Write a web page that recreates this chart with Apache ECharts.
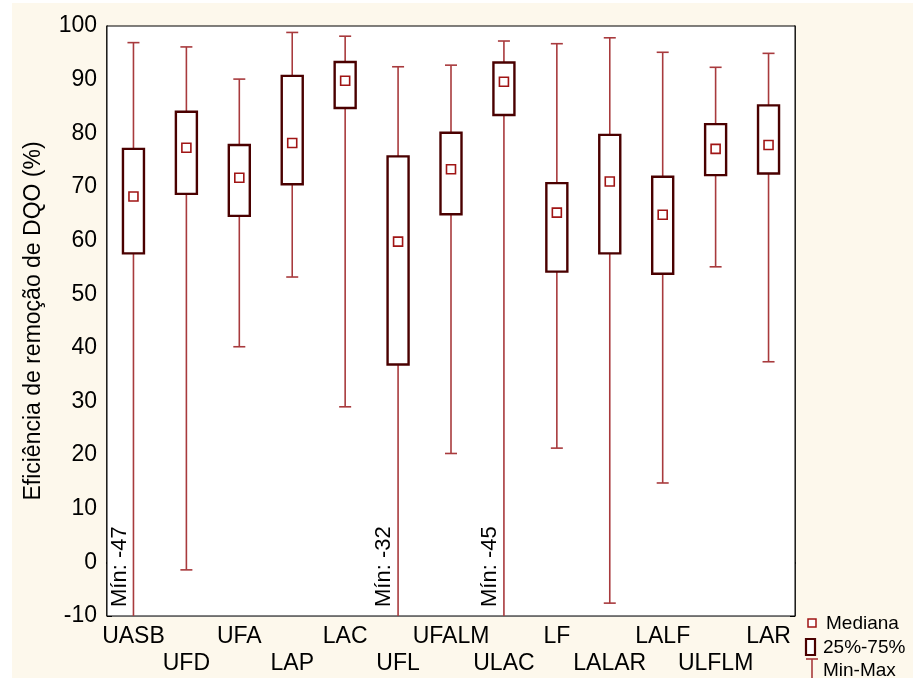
<!DOCTYPE html>
<html>
<head>
<meta charset="utf-8">
<title>Eficiência de remoção de DQO</title>
<script src="https://cdn.jsdelivr.net/npm/echarts@6/dist/echarts.min.js"></script>
<style>
  html, body { margin: 0; padding: 0; background: #fff; }
  #chart { width: 913px; height: 678px; }
</style>
</head>
<body>
<div id="chart"></div>
<script>
// dados
const categories = ["UASB", "UFD", "UFA", "LAP", "LAC", "UFL", "UFALM", "ULAC", "LF", "LALAR", "LALF", "ULFLM", "LAR"];
const minValues = [-47, -1.4, 40.2, 53.2, 29.0, -32, 20.3, -45, 21.3, -7.6, 14.8, 55.1, 37.4];
const q1Values = [57.6, 68.7, 64.6, 70.5, 84.7, 36.9, 64.9, 83.4, 54.2, 57.6, 53.8, 72.2, 72.5];
const medianValues = [68.2, 77.3, 71.7, 78.2, 89.8, 59.8, 73.3, 89.6, 65.2, 71.0, 64.8, 77.1, 77.8];
const q3Values = [77.1, 84.0, 77.8, 90.7, 93.3, 75.7, 80.1, 93.2, 70.7, 79.7, 71.9, 81.7, 85.2];
const maxValues = [96.9, 96.1, 90.1, 98.8, 98.1, 92.4, 92.7, 97.2, 96.7, 97.8, 95.1, 92.3, 94.9];
const yTicks = { min: -10, max: 100, step: 10 };

const FONT = "Liberation Sans, Arial, sans-serif";
const WHISKER = "#a83a3d";
const BOX = "#4a0000";
const MEDIAN = "#a01515";

const rows = categories.map(function (c, i) {
  return [i, minValues[i], q1Values[i], medianValues[i], q3Values[i], maxValues[i]];
});

const chart = echarts.init(document.getElementById("chart"));

function renderBox(params, api) {
  const i = api.value(0);
  const lo = api.value(1), q1 = api.value(2), md = api.value(3), q3 = api.value(4), hi = api.value(5);
  const pLo = api.coord([i, lo]);
  const pQ1 = api.coord([i, q1]);
  const pMd = api.coord([i, md]);
  const pQ3 = api.coord([i, q3]);
  const pHi = api.coord([i, hi]);
  const x = pMd[0];
  const bw = 21, cap = 6, sq = 9;
  const cs = params.coordSys;
  const bottom = cs.y + cs.height;
  const wStyle = { stroke: WHISKER, lineWidth: 1.6, fill: null };
  const children = [
    { type: "line", shape: { x1: x, y1: pHi[1], x2: x, y2: pQ3[1] }, style: wStyle },
    { type: "line", shape: { x1: x, y1: pQ1[1], x2: x, y2: pLo[1] }, style: wStyle },
    { type: "line", shape: { x1: x - cap, y1: pHi[1], x2: x + cap, y2: pHi[1] }, style: wStyle },
    { type: "line", shape: { x1: x - cap, y1: pLo[1], x2: x + cap, y2: pLo[1] }, style: wStyle },
    { type: "rect", shape: { x: x - bw / 2, y: pQ3[1], width: bw, height: pQ1[1] - pQ3[1] },
      style: { stroke: BOX, lineWidth: 2.4, fill: "#fff" } },
    { type: "rect", shape: { x: x - sq / 2, y: pMd[1] - sq / 2, width: sq, height: sq },
      style: { stroke: MEDIAN, lineWidth: 1.6, fill: "#fff" } }
  ];
  // mínimo fora da escala: escreve o valor ao lado do bigode
  if (lo < yTicks.min) {
    children.push({
      type: "text", x: x - 14, y: bottom - 9, rotation: Math.PI / 2,
      style: { text: "Mín: " + Math.round(lo), fontSize: 22, fontFamily: FONT, fill: "#000",
        align: "left", verticalAlign: "middle" }
    });
  }
  return { type: "group", children: children };
}

const option = {
  backgroundColor: "#fff",
  animation: false,
  textStyle: { fontFamily: FONT },
  grid: { left: 107, right: 118, top: 26, bottom: 62, show: true, backgroundColor: "#fff", borderColor: "#000", borderWidth: 1, z: 1 },
  graphic: [
    { type: "rect", z: -10, silent: true, shape: { x: 12, y: 3, width: 901, height: 675 }, style: { fill: "#fdf8ec" } },
    // legenda
    { type: "rect", shape: { x: 808, y: 619, width: 8, height: 8 }, style: { stroke: MEDIAN, lineWidth: 1.5, fill: "#fff" } },
    { type: "text", x: 826, y: 624, style: { text: "Mediana", fontSize: 19, fontFamily: FONT, fill: "#000", verticalAlign: "middle" } },
    { type: "rect", shape: { x: 806, y: 639, width: 9, height: 16 }, style: { stroke: BOX, lineWidth: 2.2, fill: "#fff" } },
    { type: "text", x: 823, y: 648, style: { text: "25%-75%", fontSize: 19, fontFamily: FONT, fill: "#000", verticalAlign: "middle" } },
    { type: "line", shape: { x1: 806, y1: 659, x2: 818, y2: 659 }, style: { stroke: WHISKER, lineWidth: 1.6 } },
    { type: "line", shape: { x1: 812, y1: 659, x2: 812, y2: 678 }, style: { stroke: WHISKER, lineWidth: 1.6 } },
    { type: "text", x: 823, y: 671, style: { text: "Min-Max", fontSize: 19, fontFamily: FONT, fill: "#000", verticalAlign: "middle" } }
  ],
  xAxis: [
    {
      type: "category", data: categories, boundaryGap: true, position: "bottom",
      axisLine: { lineStyle: { color: "#000", width: 1.5 } },
      axisTick: { inside: true, alignWithLabel: true, length: 5, lineStyle: { color: "#000" } },
      axisLabel: {
        interval: 0, margin: 7, fontSize: 23, color: "#000", fontFamily: FONT, lineHeight: 27,
        formatter: function (v, i) { return i % 2 === 1 ? "\n" + v : v; }
      },
      splitLine: { show: false }
    },
    {
      type: "category", data: categories, boundaryGap: true, position: "top",
      axisLine: { lineStyle: { color: "#000", width: 1.5 } },
      axisTick: { inside: true, alignWithLabel: true, length: 5, lineStyle: { color: "#000" } },
      axisLabel: { show: false }, splitLine: { show: false }
    }
  ],
  yAxis: [
    {
      type: "value", min: yTicks.min, max: yTicks.max, interval: yTicks.step, position: "left",
      name: "Eficiência de remoção de DQO (%)", nameLocation: "middle", nameGap: 62, nameRotate: 90,
      nameTextStyle: { fontSize: 23, color: "#000", fontFamily: FONT },
      axisLine: { show: true, lineStyle: { color: "#000", width: 1.5 } },
      axisTick: { show: true, inside: true, length: 5, lineStyle: { color: "#000" } },
      axisLabel: { fontSize: 23, color: "#000", margin: 10, fontFamily: FONT },
      splitLine: { show: true, lineStyle: { color: "#dcdcdc", width: 1.2 } }
    },
    {
      type: "value", min: yTicks.min, max: yTicks.max, interval: yTicks.step, position: "right",
      axisLine: { show: true, lineStyle: { color: "#000", width: 1.5 } },
      axisTick: { show: true, inside: true, length: 5, lineStyle: { color: "#000" } },
      axisLabel: { show: false }, splitLine: { show: false }
    }
  ],
  series: [
    {
      type: "custom", name: "DQO", xAxisIndex: 0, yAxisIndex: 0, clip: true,
      encode: { x: 0, y: [1, 2, 3, 4, 5] },
      renderItem: renderBox,
      data: rows, z: 5
    }
  ]
};

chart.setOption(option);
</script>
</body>
</html>
